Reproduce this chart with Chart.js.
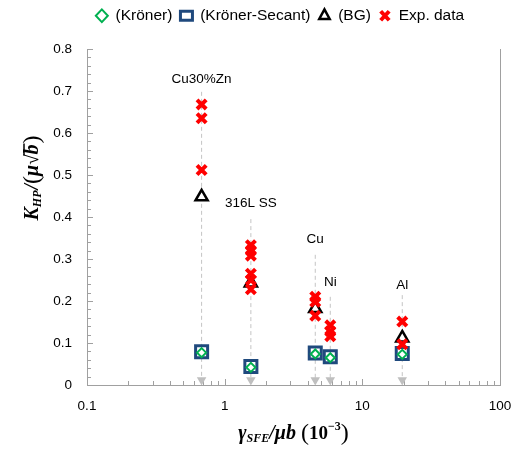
<!DOCTYPE html>
<html>
<head>
<meta charset="utf-8">
<script src="https://cdn.jsdelivr.net/npm/chart.js@4.4.0/dist/chart.umd.min.js"></script>
<style>
  html, body { margin: 0; padding: 0; background: #fff; }
</style>
</head>
<body>
<canvas id="hpChart" width="515" height="452"></canvas>
<script>
// data
const alloys = ['Cu30%Zn', '316L SS', 'Cu', 'Ni', 'Al'];
const sfeRatio = [0.68, 1.55, 4.55, 5.85, 19.5];
const kronerK = [0.077, 0.042, 0.074, 0.065, 0.073];
const secantK = [0.079, 0.044, 0.076, 0.067, 0.075];
const bgK = [0.448, 0.243, 0.182, null, 0.112];
const expX = [0.68, 0.68, 0.68, 1.55, 1.55, 1.55, 1.55, 1.55, 1.55, 4.55, 4.55, 4.55, 5.85, 5.85, 5.85, 19.5, 19.5];
const expK = [0.668, 0.635, 0.512, 0.333, 0.320, 0.308, 0.265, 0.250, 0.228, 0.210, 0.198, 0.165, 0.142, 0.128, 0.116, 0.151, 0.097];
const arrowTop = [0.698, 0.395, 0.31, 0.21, 0.214];
const arrowTip = 0.012;
const labelY = [0.728, 0.432, 0.348, 0.245, 0.238];
const xTickValues = [0.1, 1, 10, 100];
const yMax = 0.8;

const axisGrey = '#a0a0a0';
const textFont = '"Liberation Sans", Arial, sans-serif';
const mathFont = '"Liberation Serif", "DejaVu Serif", serif';

function pts(xs, ys) {
    return xs.map((x, i) => ({ x: x, y: ys[i] }));
}

const arrowSets = alloys.map((name, i) => ({
    label: 'arrow ' + name,
    data: [{ x: sfeRatio[i], y: arrowTop[i] }, { x: sfeRatio[i], y: arrowTip }],
    showLine: true,
    borderColor: '#c4c4c4',
    borderWidth: 1,
    borderDash: [4, 3],
    pointStyle: 'triangle',
    rotation: 180,
    pointRadius: [0, 5.5],
    pointBackgroundColor: '#bfbfbf',
    pointBorderColor: '#bfbfbf',
    pointBorderWidth: 0,
    order: 10
}));

// draw a run of text pieces with different fonts (sub/superscripts)
function drawRich(ctx, parts, cx, cy) {
    let total = 0;
    parts.forEach(p => { ctx.font = p.font; p.w = ctx.measureText(p.t).width + (p.gap || 0); total += p.w; });
    let x = cx - total / 2;
    ctx.textBaseline = 'middle';
    ctx.textAlign = 'left';
    parts.forEach(p => {
        ctx.font = p.font;
        ctx.fillText(p.t, x, cy + (p.dy || 0));
        if (p.overline) {
            ctx.save();
            ctx.lineWidth = 1.5;
            ctx.strokeStyle = ctx.fillStyle;
            ctx.beginPath();
            ctx.moveTo(x - 1, cy - 9);
            ctx.lineTo(x + p.w - (p.gap || 0) + 1, cy - 9);
            ctx.stroke();
            ctx.restore();
        }
        x += p.w;
    });
}

const decorations = {
    id: 'decorations',
    beforeLayout(chart) {
        // reserve room under the legend so the plot starts where the reference does
        const leg = chart.legend;
        if (leg && !leg._fitPatched) {
            const origFit = leg.fit;
            leg.fit = function () { origFit.call(this); this.height = 49; };
            leg._fitPatched = true;
        }
    },
    afterLayout(chart) {
        // legend in the reference is centred a bit right of the canvas middle
        if (chart.legend) chart.legend.left = 60;
    },
    beforeDatasetsDraw(chart) {
        const ctx = chart.ctx;
        const xs = chart.scales.x, ys = chart.scales.y;
        const area = chart.chartArea;
        ctx.save();
        ctx.strokeStyle = axisGrey;
        ctx.lineWidth = 1;
        // inner tick marks on the log axis
        [0.1, 1, 10].forEach(d => {
            for (let k = 1; k <= 9; k++) {
                const px = Math.round(xs.getPixelForValue(d * k)) + 0.5;
                ctx.beginPath();
                ctx.moveTo(px, area.bottom);
                ctx.lineTo(px, area.bottom - (k === 1 ? 6 : 4));
                ctx.stroke();
            }
        });
        // inner tick marks on the y axis
        for (let i = 0; i <= 40; i++) {
            const py = Math.round(ys.getPixelForValue(i * 0.02)) + 0.5;
            ctx.beginPath();
            ctx.moveTo(area.left, py);
            ctx.lineTo(area.left + (i % 5 === 0 ? 6 : 4), py);
            ctx.stroke();
        }
        // right frame line
        const rx = Math.round(area.right) + 0.5;
        ctx.beginPath();
        ctx.moveTo(rx, area.top);
        ctx.lineTo(rx, area.bottom);
        ctx.stroke();
        ctx.restore();
    },
    afterDraw(chart) {
        const ctx = chart.ctx;
        const xs = chart.scales.x, ys = chart.scales.y;
        const area = chart.chartArea;
        ctx.save();
        ctx.fillStyle = '#000';
        ctx.font = '13.5px ' + textFont;
        ctx.textAlign = 'center';
        ctx.textBaseline = 'middle';
        alloys.forEach((name, i) => {
            ctx.fillText(name, xs.getPixelForValue(sfeRatio[i]), ys.getPixelForValue(labelY[i]));
        });

        // y axis title
        ctx.save();
        ctx.translate(33, 178);
        ctx.rotate(-Math.PI / 2);
        drawRich(ctx, [
            { t: 'K', font: 'bold italic 20px ' + mathFont },
            { t: 'HP', font: 'bold italic 12px ' + mathFont, dy: 5, gap: 1 },
            { t: '/', font: 'bold italic 20px ' + mathFont },
            { t: '(', font: '24px ' + mathFont },
            { t: 'μ', font: 'bold italic 20px ' + mathFont },
            { t: '√', font: '19px ' + mathFont },
            { t: 'b', font: 'bold italic 20px ' + mathFont, overline: true, gap: 1 },
            { t: ')', font: '24px ' + mathFont }
        ], 0, 0);
        ctx.restore();

        // x axis title
        drawRich(ctx, [
            { t: 'γ', font: 'bold italic 20px ' + mathFont },
            { t: 'SFE', font: 'bold italic 12px ' + mathFont, dy: 5 },
            { t: '/μb ', font: 'bold italic 20px ' + mathFont },
            { t: '(', font: '24px ' + mathFont },
            { t: '10', font: 'bold 19px ' + mathFont },
            { t: '−3', font: 'bold 12px ' + mathFont, dy: -7 },
            { t: ')', font: '24px ' + mathFont }
        ], (area.left + area.right) / 2, 434);
        ctx.restore();
    }
};

const ctx = document.getElementById('hpChart').getContext('2d');
const hpChart = new Chart(ctx, {
    type: 'scatter',
    data: {
        datasets: [{
            label: '(Kröner)',
            data: pts(sfeRatio, kronerK),
            pointStyle: 'rectRot',
            pointRadius: 4.5,
            borderWidth: 2,
            borderColor: '#00b050',
            backgroundColor: '#ffffff',
            order: 1
        }, {
            label: '(Kröner-Secant)',
            data: pts(sfeRatio, secantK),
            pointStyle: 'rect',
            pointRadius: 8.5,
            borderWidth: 3,
            borderColor: '#1f497d',
            backgroundColor: '#ffffff',
            order: 3
        }, {
            label: '(BG)',
            data: pts(sfeRatio, bgK),
            pointStyle: 'triangle',
            pointRadius: 7,
            borderWidth: 2.5,
            borderColor: '#000000',
            backgroundColor: '#ffffff',
            order: 2
        }, {
            label: 'Exp. data',
            data: pts(expX, expK),
            pointStyle: 'crossRot',
            pointRadius: 6.5,
            borderWidth: 4,
            borderColor: '#ff0000',
            backgroundColor: '#ff0000',
            order: 0
        }].concat(arrowSets)
    },
    options: {
        responsive: false,
        animation: false,
        devicePixelRatio: 1,
        layout: { padding: { top: 0, right: 15, left: 0, bottom: 0 } },
        plugins: {
            tooltip: { enabled: false },
            legend: {
                position: 'top',
                labels: {
                    usePointStyle: true,
                    boxHeight: 9,
                    pointStyleWidth: 12,
                    padding: 8,
                    color: '#000',
                    font: { size: 15.5, family: textFont },
                    filter: item => item.datasetIndex < 4,
                    sort: (a, b) => a.datasetIndex - b.datasetIndex
                }
            }
        },
        scales: {
            x: {
                type: 'logarithmic',
                min: 0.1,
                max: 100,
                afterBuildTicks: scale => {
                    scale.ticks = xTickValues.map(v => ({ value: v, major: true }));
                },
                afterFit: scale => {
                    scale.height = 67;
                    scale.paddingRight = 0;
                    scale.paddingLeft = 0;
                },
                ticks: {
                    autoSkip: false,
                    maxRotation: 0,
                    padding: 13,
                    color: '#000',
                    font: { size: 13.5, family: textFont },
                    callback: v => String(v)
                },
                grid: { display: false, drawTicks: false },
                border: { display: true, color: axisGrey, width: 1 }
            },
            y: {
                min: 0,
                max: yMax,
                afterFit: scale => {
                    scale.width = 87;
                    scale.paddingTop = 0;
                    scale.paddingBottom = 0;
                },
                ticks: {
                    stepSize: 0.1,
                    padding: 15,
                    color: '#000',
                    font: { size: 13.5, family: textFont },
                    callback: v => String(Math.round(v * 10) / 10)
                },
                grid: { display: false, drawTicks: false },
                border: { display: true, color: axisGrey, width: 1 }
            }
        }
    },
    plugins: [decorations]
});
</script>
</body>
</html>
